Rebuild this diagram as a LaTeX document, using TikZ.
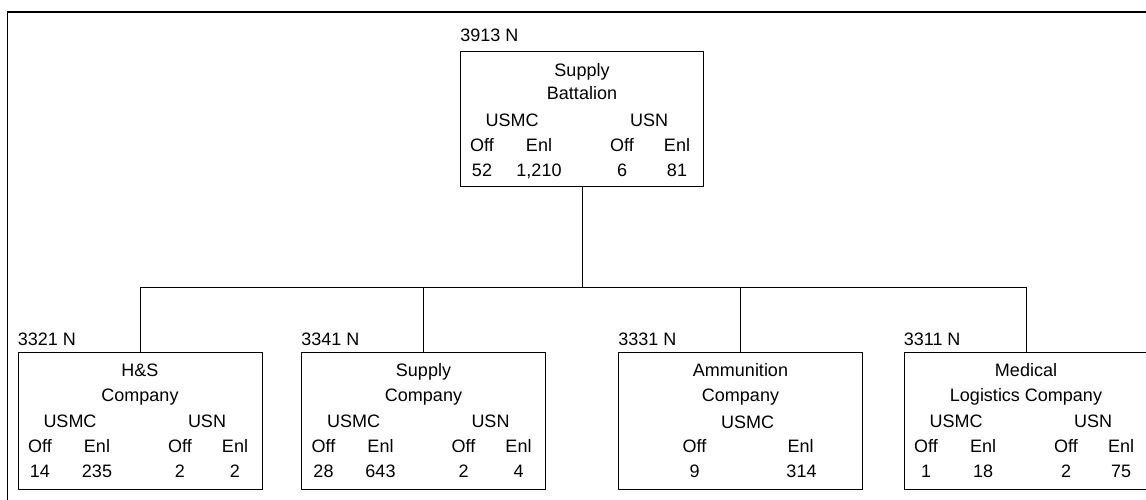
\documentclass[tikz,border=0pt]{standalone}
\usepackage{fontspec}
\setmainfont{Liberation Sans}
\usetikzlibrary{positioning}

% strength rows of one unit box: name, USMC off/enl, USN off/enl
\newcommand{\unitstrength}[5]{%
  \node[lbl] (#1-usmc) at ([shift={(-70,-69)}]#1.north) {USMC};
  \node[lbl] (#1-usn)  at ([shift={(67,-69)}]#1.north) {USN};
  \node[lbl] (#1-off)  at ([shift={(-100,-94)}]#1.north) {Off};
  \node[lbl] (#1-enl)  at ([shift={(-43,-94)}]#1.north) {Enl};
  \node[lbl] (#1-noff) at ([shift={(40,-94)}]#1.north) {Off};
  \node[lbl] (#1-nenl) at ([shift={(95,-94)}]#1.north) {Enl};
  \node[lbl] (#1-a) at ([shift={(-100,-119)}]#1.north) {#2};
  \node[lbl] (#1-b) at ([shift={(-43,-119)}]#1.north) {#3};
  \node[lbl] (#1-c) at ([shift={(40,-119)}]#1.north) {#4};
  \node[lbl] (#1-d) at ([shift={(95,-119)}]#1.north) {#5};
}

\begin{document}
\begin{tikzpicture}[x=1pt, y=1pt,
      every node/.style={font=\fontsize{18}{22}\selectfont},
      unit/.style={draw, line width=0.8pt, minimum width=244pt, minimum height=137pt, inner sep=0pt},
      lbl/.style={inner sep=0pt, text height=13pt, text depth=0pt},
      link/.style={line width=0.8pt}]
  \useasboundingbox (0,0) rectangle (1146,500);
  \draw[line width=1.6pt] (7.5,0) -- (7.5,488) -- (1150,488);

  % battalion
  \node[unit, minimum width=243pt, minimum height=135pt] (bn) at (582,381.5) {};
  \node[lbl, above right=9pt and 0pt of bn.north west] (bn-code) {3913 N};
  \node[lbl] (bn-t1) at ([yshift=-19]bn.north) {Supply};
  \node[lbl] (bn-t2) at ([yshift=-42]bn.north) {Battalion};
  \unitstrength{bn}{52}{1,210}{6}{81}

  % companies
  \node[unit] (hs)  at (140,79.5) {};
  \node[unit] (sup) at (423.5,79.5) {};
  \node[unit] (amm) at (740.5,79.5) {};
  \node[unit] (med) at (1026,79.5) {};

  \node[lbl, above right=5.5pt and 0pt of hs.north west] (hs-code) {3321 N};
  \node[lbl] (hs-t1) at ([yshift=-18]hs.north) {H\&S};
  \node[lbl] (hs-t2) at ([yshift=-43]hs.north) {Company};
  \unitstrength{hs}{14}{235}{2}{2}

  \node[lbl, above right=5.5pt and 0pt of sup.north west] (sup-code) {3341 N};
  \node[lbl] (sup-t1) at ([yshift=-18]sup.north) {Supply};
  \node[lbl] (sup-t2) at ([yshift=-43]sup.north) {Company};
  \unitstrength{sup}{28}{643}{2}{4}

  \node[lbl, above right=5.5pt and 0pt of amm.north west] (amm-code) {3331 N};
  \node[lbl] (amm-t1) at ([yshift=-18]amm.north) {Ammunition};
  \node[lbl] (amm-t2) at ([yshift=-43]amm.north) {Company};
  \node[lbl] (amm-usmc) at ([shift={(7,-70)}]amm.north) {USMC};
  \node[lbl] (amm-off) at ([shift={(-46,-94)}]amm.north) {Off};
  \node[lbl] (amm-enl) at ([shift={(60,-94)}]amm.north) {Enl};
  \node[lbl] (amm-a) at ([shift={(-46,-119)}]amm.north) {9};
  \node[lbl] (amm-b) at ([shift={(61,-119)}]amm.north) {314};

  \node[lbl, above right=5.5pt and 0pt of med.north west] (med-code) {3311 N};
  \node[lbl] (med-t1) at ([yshift=-18]med.north) {Medical};
  \node[lbl] (med-t2) at ([yshift=-43]med.north) {Logistics Company};
  \unitstrength{med}{1}{18}{2}{75}

  % tree lines
  \coordinate (bus) at (582,213);
  \draw[link] (bn.south) -- (bus);
  \foreach \u in {hs,sup,amm,med}
    \draw[link] (\u.north) |- (bus);
\end{tikzpicture}
\end{document}
